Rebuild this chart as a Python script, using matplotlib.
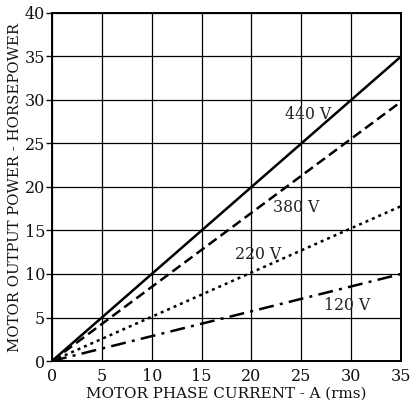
import matplotlib
matplotlib.use("Agg")
import matplotlib.pyplot as plt
import numpy as np

plt.rcParams['font.family'] = ['DejaVu Serif']

current = [0, 35]
series = {
    "440 V": [0, 35.0],
    "380 V": [0, 29.8],
    "220 V": [0, 17.8],
    "120 V": [0, 10.0],
}
styles = {
    "440 V": dict(linestyle='-'),
    "380 V": dict(linestyle=(0, (4, 2))),
    "220 V": dict(linestyle=(0, (1.2, 1.6))),
    "120 V": dict(linestyle=(0, (6, 2.5, 1.2, 2.5))),
}
label_pos = {
    "440 V": (25.7, 28.3),
    "380 V": (24.5, 17.6),
    "220 V": (20.7, 12.2),
    "120 V": (29.6, 6.4),
}
xticks = [0, 5, 10, 15, 20, 25, 30, 35]
yticks = [0, 5, 10, 15, 20, 25, 30, 35, 40]
xlabel = "MOTOR PHASE CURRENT - A (rms)"
ylabel = "MOTOR OUTPUT POWER - HORSEPOWER"

fig = plt.figure(figsize=(4.13, 4.04), dpi=100)
ax = fig.add_axes([52/413, 1-361/404, 349/413, 348/404])

for name, vals in series.items():
    ax.plot(current, vals, color='black', linewidth=1.8, solid_capstyle='butt',
            dash_capstyle='butt', **styles[name], zorder=3)
    x, y = label_pos[name]
    ax.text(x, y, name, ha='center', va='center', fontsize=11.3, color='#222222', zorder=4)

ax.set_xlim(0, 35)
ax.set_ylim(0, 40)
ax.set_xticks(xticks)
ax.set_yticks(yticks)
ax.grid(True, color='black', linewidth=0.9)
ax.set_axisbelow(True)
for s in ax.spines.values():
    s.set_linewidth(1.4)
ax.tick_params(axis='y', direction='out', length=4, width=1, labelsize=11.5, pad=1, colors='#111111')
ax.tick_params(axis='x', direction='out', length=0, labelsize=11.5, pad=5, colors='#111111')
ax.set_xlabel(xlabel, fontsize=10.9, labelpad=1, color='#111111')
ax.set_ylabel(ylabel, fontsize=10.7, labelpad=2, color='#111111')

fig.savefig("out.png", dpi=100)
